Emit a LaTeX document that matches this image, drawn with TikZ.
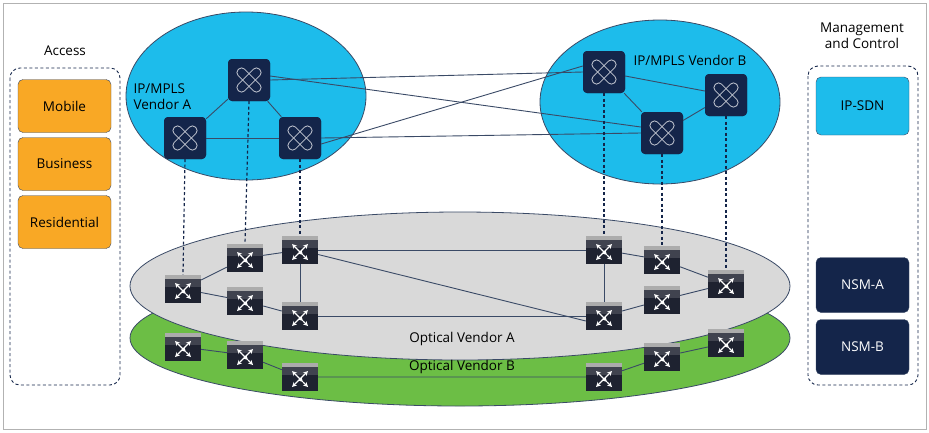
\documentclass[tikz,border=0pt]{standalone}
\usepackage{fontspec}
\setmainfont{Open Sans}
\usetikzlibrary{shapes.geometric}
\definecolor{ipblue}{HTML}{1DBCEB}
\definecolor{navy}{HTML}{14254A}
\definecolor{orng}{HTML}{F9A825}
\definecolor{gry}{HTML}{D9D9D9}
\definecolor{grn}{HTML}{6CBE45}
\definecolor{lnk}{HTML}{3A4A66}
\definecolor{sw}{HTML}{1E2230}
\begin{document}
\begin{tikzpicture}[x=1pt,y=-1pt,
  font=\fontsize{13.5}{16}\selectfont,
  link/.style={lnk,line width=0.9pt},
  dlink/.style={navy,line width=1.2pt,dash pattern=on 3pt off 2.5pt},
  box/.style={rounded corners=5pt,minimum width=93pt,minimum height=53pt,draw=lnk,line width=0.4pt,font=\fontsize{13.5}{16}\selectfont},
  router/.style={draw=none,fill=navy,rounded corners=4pt,minimum width=42pt,minimum height=42pt,inner sep=0pt},
  xmark/.pic={
    \draw[white!75!navy,line width=0.8pt,rotate=45,rounded corners=4pt] (-15,-4.5) rectangle (15,4.5);
    \draw[white!75!navy,line width=0.8pt,rotate=-45,rounded corners=4pt] (-15,-4.5) rectangle (15,4.5);},
  swarrows/.pic={
    \begin{scope}[white,line width=1.1pt,->,>=stealth]
      \draw (-3,-3) -- (-8,-8); \draw (3,-3) -- (8,-8); \draw (-3,3) -- (-8,8); \draw (3,3) -- (8,8);
      \draw (-3,-3) .. controls (0,0) .. (3,3); \draw[-] (3,-3) .. controls (0,0) .. (-3,3);
    \end{scope}},
  switch/.style={draw=none,fill=sw,minimum width=36pt,minimum height=28pt,inner sep=0pt,
    path picture={
      \fill[gray!65] (path picture bounding box.north west) rectangle ([yshift=-4pt]path picture bounding box.north east);
      \fill[white!15!sw] ([yshift=-4pt]path picture bounding box.north west) rectangle ([yshift=-12pt]path picture bounding box.north east);
    }}]
\useasboundingbox (0,0) rectangle (929,432);
\draw[gray!60,line width=0.8pt] (3,3) rectangle (926,429);
% access
\node (acct) at (65,51) {Access};
\draw[dlink,line width=0.9pt,rounded corners=10pt] (10,68) rectangle (120,385);
\node[box,fill=orng] (mob) at (64.5,106) {Mobile};
\node[box,fill=orng] (bus) at (64.5,164) {Business};
\node[box,fill=orng] (res) at (64.5,222) {Residential};
% management
\node[align=center] (mgt) at (862,36) {Management\\and Control};
\draw[dlink,line width=0.9pt,rounded corners=10pt] (808,66) rectangle (918,385);
\node[box,fill=ipblue,minimum height=58pt] (sdn) at (862.5,106) {IP-SDN};
\node[box,fill=navy,text=white,minimum height=55pt] (nsma) at (862.5,285) {NSM-A};
\node[box,fill=navy,text=white,minimum height=55pt] (nsmb) at (862.5,347) {NSM-B};
% optical ellipses
\node[ellipse,fill=grn,draw=lnk,line width=0.8pt,minimum width=660pt,minimum height=136pt] (ob) at (460,338) {};
\node[ellipse,fill=gry,draw=lnk,line width=0.8pt,minimum width=660pt,minimum height=148pt] (oa) at (460,286) {};
\node (oal) at (462,339) {Optical Vendor A};
\node (obl) at (462,367) {Optical Vendor B};
% IP ellipses
\node[ellipse,fill=ipblue,draw=lnk,line width=0.8pt,minimum width=240pt,minimum height=168pt] (ea) at (246,96) {};
\node[ellipse,fill=ipblue,draw=lnk,line width=0.8pt,minimum width=240pt,minimum height=164pt] (eb) at (660,102) {};
\node[align=left,anchor=west] (la) at (130,97) {IP/MPLS\\Vendor A};
\node[anchor=west] (lb) at (630,60) {IP/MPLS Vendor B};
% routers
\node[router] (ra) at (249,80) {};
\node[router] (rl) at (185,138) {};
\node[router] (rr) at (300,138) {};
\node[router] (bt) at (604,72) {};
\node[router] (br) at (726,95) {};
\node[router] (bb) at (662,133) {};
% switches
\node[switch] (s1) at (183,289) {};
\node[switch] (s2) at (245,258) {};
\node[switch] (s3) at (300,250) {};
\node[switch] (s4) at (245,301) {};
\node[switch] (s5) at (300,316) {};
\node[switch] (s6) at (604,250) {};
\node[switch] (s7) at (662,260) {};
\node[switch] (s8) at (726,284) {};
\node[switch] (s9) at (662,300) {};
\node[switch] (s10) at (604,316) {};
\node[switch] (g1) at (183,347) {};
\node[switch] (g2) at (245,355) {};
\node[switch] (g3) at (300,377) {};
\node[switch] (g4) at (604,377) {};
\node[switch] (g5) at (662,357) {};
\node[switch] (g6) at (726,343) {};
% IP links
\draw[link] (ra.east) -- (bt.west);
\draw[link] ([yshift=4pt]ra.east) -- ([yshift=6pt]bb.west);
\draw[link] ([yshift=-6pt]rr.east) -- ([yshift=6pt]bt.west);
\draw[link] (rr.east) -- (bb.west);
\draw[link] (ra) -- (rl); \draw[link] (ra) -- (rr); \draw[link] (rl) -- (rr);
\draw[link] (bt) -- (br); \draw[link] (bt) -- (bb); \draw[link] (bb) -- (br);
\foreach \r/\s in {ra/s2,rl/s1,rr/s3,bt/s6,bb/s7,br/s8}{\draw[dlink] (\r.south) -- (\s.north);}
\foreach \n/\p in {ra/{249,80},rl/{185,138},rr/{300,138},bt/{604,72},br/{726,95},bb/{662,133}}{\node[router] at (\p) {}; \pic at (\p) {xmark};}
% optical links
\draw[link] (s1) -- (s2); \draw[link] (s2) -- (s3); \draw[link] (s1) -- (s4); \draw[link] (s4) -- (s5);
\draw[link] (s3) -- (s5); \draw[link] (s3.east) -- (s6.west); \draw[link] (s3) -- ([yshift=-5pt]s10.west);
\draw[link] (s5.east) -- (s10.west |- s5.east);
\draw[link] (s6) -- (s7); \draw[link] (s6) -- (s10); \draw[link] (s7) -- (s8); \draw[link] (s10) -- (s9); \draw[link] (s9) -- (s8);
\draw[link] (g1) -- (g2) -- (g3) -- (g4) -- (g5) -- (g6);
\foreach \n/\p in {s1/{183,289},s2/{245,258},s3/{300,250},s4/{245,301},s5/{300,316},s6/{604,250},s7/{662,260},s8/{726,284},s9/{662,300},s10/{604,316},g1/{183,347},g2/{245,355},g3/{300,377},g4/{604,377},g5/{662,357},g6/{726,343}}{\node[switch] at (\p) {}; \pic[yshift=-2pt] at (\p) {swarrows};}
\end{tikzpicture}
\end{document}
